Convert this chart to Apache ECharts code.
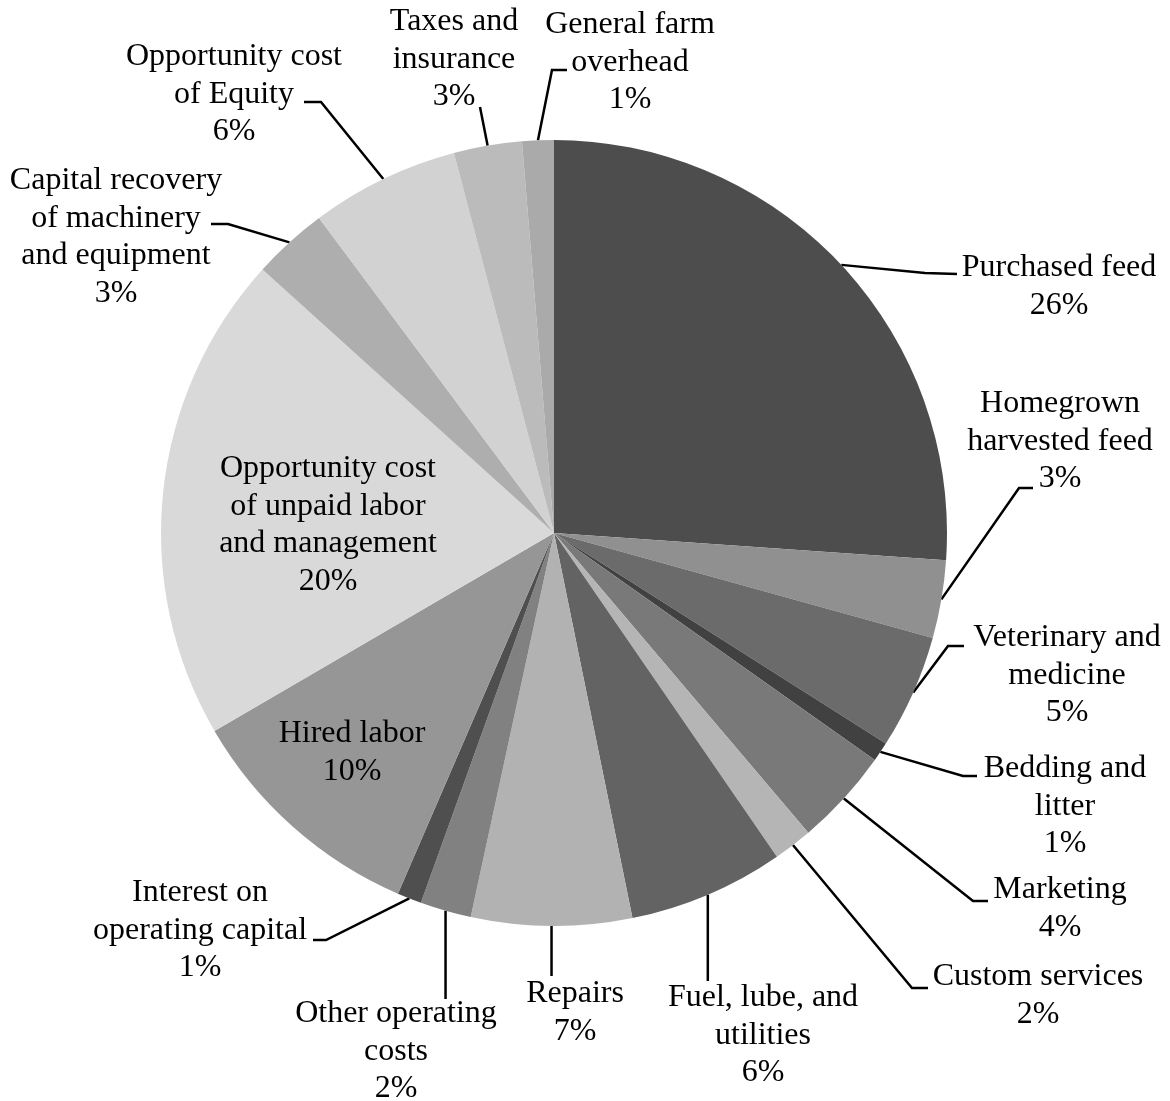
<!DOCTYPE html>
<html>
<head>
<meta charset="utf-8">
<script src="https://cdn.jsdelivr.net/npm/echarts@6/dist/echarts.min.js"></script>
<style>
html,body{margin:0;padding:0;background:#fff;}
#chart{width:1170px;height:1101px;}
</style>
</head>
<body>
<div id="chart"></div>
<script>
// ---- data ----
var categories = [
  'Purchased feed',
  'Homegrown\nharvested feed',
  'Veterinary and\nmedicine',
  'Bedding and\nlitter',
  'Marketing',
  'Custom services',
  'Fuel, lube, and\nutilities',
  'Repairs',
  'Other operating\ncosts',
  'Interest on\noperating capital',
  'Hired labor',
  'Opportunity cost\nof unpaid labor\nand management',
  'Capital recovery\nof machinery\nand equipment',
  'Opportunity cost\nof Equity',
  'Taxes and\ninsurance',
  'General farm\noverhead'
];
var values = [26.1, 3.2, 4.7, 0.8, 4.0, 1.6, 6.4, 6.6, 2.1, 1.0, 10.1, 20.1, 3.1, 6.1, 2.8, 1.3];
var colors = ['#4d4d4d','#909090','#6b6b6b','#414141','#797979','#b5b5b5','#636363','#b2b2b2',
              '#818181','#4f4f4f','#969696','#d9d9d9','#aeaeae','#d2d2d2','#bbbbbb','#aaaaaa'];
var insideLabels = [10, 11];

// ---- label placement (style) ----
var LH = 37.5;
var DY = 2;
var labelPos = [
  {cx:1059, y1:266, pts:[[925,273],[957,274]]},
  {cx:1060, y1:402, pts:[[1019,488],[1033,488]]},
  {cx:1067, y1:636, pts:[[948,646],[964,646]]},
  {cx:1065, y1:767, pts:[[963,776],[977,776]]},
  {cx:1060, y1:888, pts:[[973,901],[988,901]]},
  {cx:1038, y1:975, pts:[[912,988],[928,988]]},
  {cx:763,  y1:996, vert:981},
  {cx:575,  y1:992, vert:976},
  {cx:396,  y1:1012, vert:999},
  {cx:200,  y1:891, pts:[[326,940],[313,940]]},
  {cx:352,  y1:732},
  {cx:328,  y1:467},
  {cx:116,  y1:179, pts:[[228,224],[211,224]]},
  {cx:234,  y1:55,  pts:[[321,102],[304,102]]},
  {cx:454,  y1:20,  pts:[[480,107]]},
  {cx:630,  y1:23,  pts:[[552,70],[567,70]]}
];

var seriesData = categories.map(function (c, i) {
  var item = {name: c, value: values[i], itemStyle: {color: colors[i]}};
  if (insideLabels.indexOf(i) >= 0) item.labelLine = {show: false};
  return item;
});

var chart = echarts.init(document.getElementById('chart'), null, {renderer: 'canvas'});
chart.setOption({
  backgroundColor: '#ffffff',
  animation: false,
  series: [{
    type: 'pie',
    center: [554, 533],
    radius: 393,
    startAngle: 90,
    clockwise: true,
    avoidLabelOverlap: false,
    itemStyle: {borderWidth: 0},
    label: {
      show: true,
      position: 'outside',
      color: '#000',
      fontFamily: '"Liberation Serif", "Times New Roman", serif',
      fontSize: 32,
      lineHeight: LH,
      align: 'center',
      formatter: function (p) { return p.name + '\n' + Math.round(p.value) + '%'; }
    },
    labelLine: {show: true, lineStyle: {color: '#000', width: 2.5}, length: 10, length2: 10},
    labelLayout: function (params) {
      var lp = labelPos[params.dataIndex];
      var res = {x: lp.cx, y: lp.y1 + DY - LH / 2, align: 'center', verticalAlign: 'top'};
      var p0 = params.labelLinePoints ? params.labelLinePoints[0] : null;
      if (p0) {
        if (lp.vert != null) {
          res.labelLinePoints = [[p0[0], p0[1]], [p0[0], lp.vert]];
        } else if (lp.pts) {
          res.labelLinePoints = [[p0[0], p0[1]]].concat(lp.pts);
        }
      }
      return res;
    },
    data: seriesData
  }]
});
</script>
</body>
</html>
